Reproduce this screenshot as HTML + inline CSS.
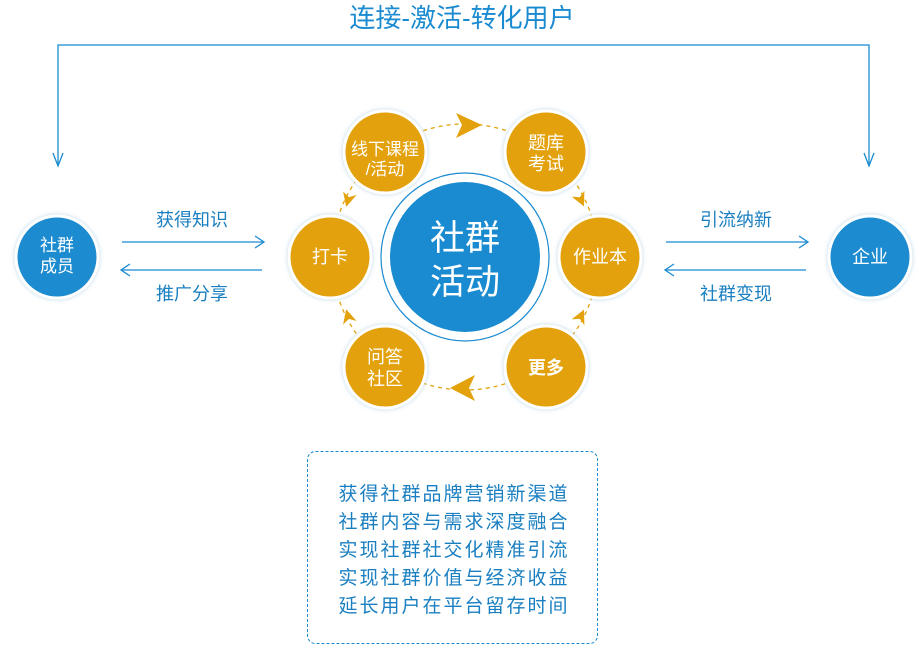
<!DOCTYPE html>
<html><head><meta charset="utf-8"><style>
body{margin:0;background:#fff;width:924px;height:645px;overflow:hidden;font-family:"Liberation Sans","Noto Sans CJK SC",sans-serif}
</style></head><body>
<svg width="924" height="645" viewBox="0 0 924 645" xmlns="http://www.w3.org/2000/svg" font-family="Liberation Sans, Noto Sans CJK SC, sans-serif">
<defs>
<filter id="g" x="-30%" y="-30%" width="160%" height="160%"><feDropShadow dx="0" dy="0" stdDeviation="2" flood-color="#9cc7e0" flood-opacity="0.7"/></filter>
</defs>
<text x="462" y="27" text-anchor="middle" font-size="26" fill="#1a8bd0">连接-激活-转化用户</text>
<g stroke="#1a8bd0" stroke-width="1.3" fill="none">
<polyline points="58,165 58,45 869,45 869,165"/>
<polyline points="53,153 58,166 63,153"/>
<polyline points="864,153 869,166 874,153"/>
<line x1="122" y1="242" x2="264" y2="242"/><polyline points="255,236 264,242 255,248"/>
<line x1="121" y1="270" x2="262" y2="270"/><polyline points="130,264 121,270 130,276"/>
<line x1="666" y1="242" x2="808" y2="242"/><polyline points="799,236 808,242 799,248"/>
<line x1="665" y1="270" x2="806" y2="270"/><polyline points="674,264 665,270 674,276"/>
</g>
<g font-size="18" fill="#1a7fc0" text-anchor="middle">
<text x="192" y="226">获得知识</text><text x="192" y="300">推广分享</text>
<text x="736" y="226">引流纳新</text><text x="736" y="300">社群变现</text>
</g>
<circle cx="57" cy="257" r="41" fill="#1a8bd0" stroke="#fff" stroke-width="3" filter="url(#g)"/>
<text x="57" y="251" text-anchor="middle" font-size="17" fill="#fff">社群</text>
<text x="57" y="272" text-anchor="middle" font-size="17" fill="#fff">成员</text>
<circle cx="870" cy="257" r="41" fill="#1a8bd0" stroke="#fff" stroke-width="3" filter="url(#g)"/>
<text x="870" y="263" text-anchor="middle" font-size="18" fill="#fff">企业</text>
<circle cx="465" cy="257" r="133" fill="none" stroke="#e3a20b" stroke-width="1.3" stroke-dasharray="4,4"/>
<g fill="#e3a20b">
<polygon points="456,113 482,125 456,138 462,125"/>
<polygon points="475,375 450,388 475,401 469,388"/>
<polygon points="0,-7 7,7 0,3 -7,7" transform="translate(348,200) rotate(195)"/>
<polygon points="0,-7 7,7 0,3 -7,7" transform="translate(581,200) rotate(155)"/>
<polygon points="0,-7 7,7 0,3 -7,7" transform="translate(348,316) rotate(-15)"/>
<polygon points="0,-7 7,7 0,3 -7,7" transform="translate(581,316) rotate(25)"/>
</g>
<circle cx="465" cy="257" r="84" fill="#fff" stroke="#1a8bd0" stroke-width="1.2"/>
<circle cx="465" cy="257" r="75" fill="#1a8bd0"/>
<text x="465" y="250" text-anchor="middle" font-size="35" fill="#fff">社群</text>
<text x="465" y="294" text-anchor="middle" font-size="35" fill="#fff">活动</text>
<g fill="#e3a20b" stroke="#fff" stroke-width="3" filter="url(#g)">
<circle cx="385" cy="152" r="41"/><circle cx="546" cy="152" r="41"/>
<circle cx="330" cy="257" r="41"/><circle cx="600" cy="257" r="41"/>
<circle cx="385" cy="367" r="41"/><circle cx="546" cy="367" r="41"/>
</g>
<g fill="#fff" text-anchor="middle" font-size="18">
<text x="385" y="155" font-size="17">线下课程</text><text x="385" y="175" font-size="17">/活动</text>
<text x="546" y="149">题库</text><text x="546" y="170">考试</text>
<text x="330" y="263">打卡</text><text x="600" y="263">作业本</text>
<text x="385" y="363">问答</text><text x="385" y="385">社区</text>
<text x="546" y="374" font-weight="bold">更多</text>
</g>
<rect x="307.5" y="451.5" width="290" height="192" rx="8" fill="none" stroke="#1a8bd0" stroke-width="1" stroke-dasharray="3,2"/>
<g font-size="19" fill="#1a7fc0" text-anchor="middle" letter-spacing="2">
<text x="454" y="500">获得社群品牌营销新渠道</text>
<text x="454" y="528">社群内容与需求深度融合</text>
<text x="454" y="556">实现社群社交化精准引流</text>
<text x="454" y="584">实现社群价值与经济收益</text>
<text x="454" y="612">延长用户在平台留存时间</text>
</g>
</svg>
</body></html>
